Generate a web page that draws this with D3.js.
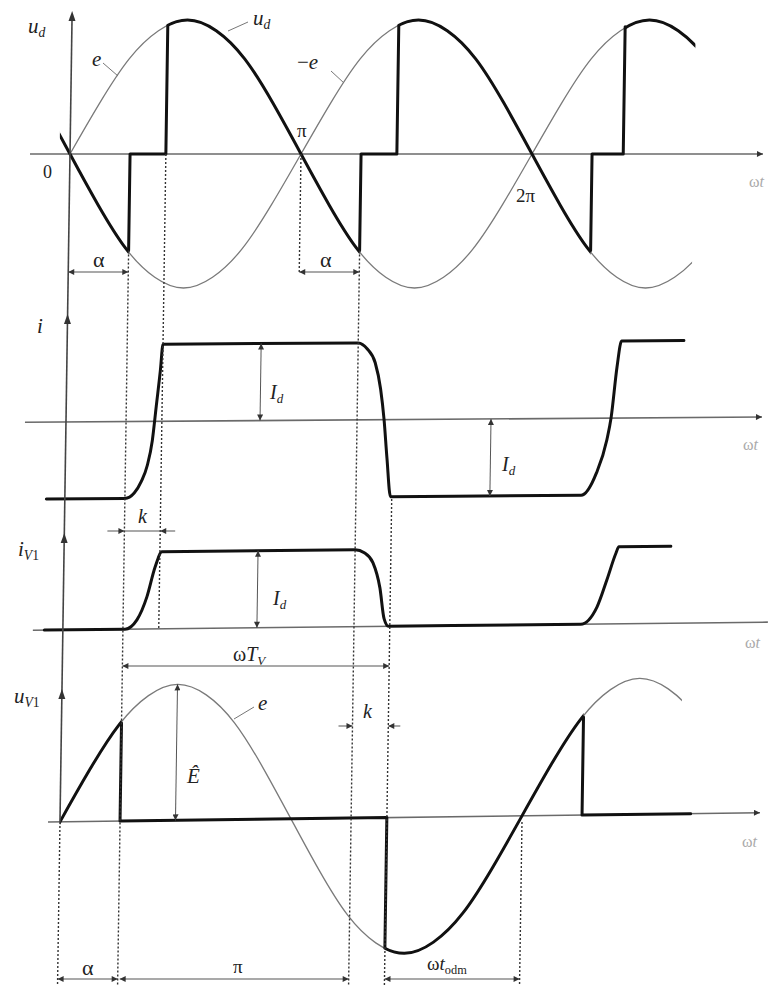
<!DOCTYPE html>
<html>
<head>
<meta charset="utf-8">
<script src="https://cdn.jsdelivr.net/npm/d3@7"></script>
<style>
body { margin: 0; background: #fff; }
</style>
</head>
<body>
<script>
var width = 768,
    height = 989;

// angles in multiples of pi, amplitudes in per unit (E-hat or Id)
var eTheta = [-0.25, -0.125, 0, 0.125, 0.25, 0.375, 0.5, 0.625, 0.75, 0.875, 1, 1.125, 1.25,
  1.375, 1.5, 1.625, 1.75, 1.875, 2, 2.125, 2.25, 2.375, 2.5, 2.625, 2.75, 2.875];
var eValue = [-0.71, -0.38, 0, 0.38, 0.71, 0.92, 1, 0.92, 0.71, 0.38, 0, -0.38, -0.71,
  -0.92, -1, -0.92, -0.71, -0.38, 0, 0.38, 0.71, 0.92, 1, 0.92, 0.71, 0.38];
var eEnd = 2.7;

var fireAngles = [0.26, 1.26, 2.26];        // alpha, pi+alpha, 2pi+alpha
var commEndAngles = [0.415, 1.415, 2.395];  // end of overlap k
var udBefore = [-0.72, -0.72, -0.72];       // u_d just before each firing
var udAfter = [0.96, 0.96, 0.95];           // u_d at end of overlap
var udStart = -0.045;

// current i (units of Id)
var iTheta = [-0.08, 0.26, 0.30, 0.33, 0.355, 0.375, 0.39, 0.405, 0.415, 1.26, 1.30, 1.335, 1.36,
  1.377, 1.392, 1.41, 2.235, 2.30, 2.343, 2.36, 2.382, 2.40, 2.67];
var iValue = [-1, -1, -0.93, -0.78, -0.57, -0.25, 0.2, 0.65, 1, 1, 0.92, 0.74, 0.4,
  0, -0.5, -1, -1, -0.71, -0.28, 0.01, 0.66, 1, 1];

// thyristor current iV1 (units of Id)
var ivTheta = [-0.08, 0.269, 0.32, 0.362, 0.395, 0.424, 1.26, 1.30, 1.338, 1.37, 1.39, 1.41,
  2.242, 2.311, 2.352, 2.39, 2.402, 2.627];
var ivValue = [0, 0, 0.12, 0.42, 0.8, 1, 1, 0.96, 0.83, 0.5, 0.1, 0,
  0, 0.22, 0.57, 0.92, 1, 1];

// thyristor voltage uV1 jumps
var uvJump = [0.72, -0.96, 0.72];
var uvFlatEnd = 2.73;

// panel layout: zero line, amplitude in px, scan tilt
var panels = [
  {zero: 154, amp: 134, tilt: 0},
  {zero: 422, amp: 77, tilt: 0.007},
  {zero: 630, amp: 77, tilt: 0.011},
  {zero: 822, amp: 136, tilt: 0.013}
];
var shear = 0.015;
var serif = "'Liberation Serif', 'Times New Roman', serif";

var svg = d3.select("body").append("svg")
  .attr("width", width)
  .attr("height", height)
  .attr("font-family", serif);
var defs = svg.append("defs");

defs.append("marker")
  .attr("id", "ah")
  .attr("viewBox", "0 0 10 10")
  .attr("refX", 10).attr("refY", 5)
  .attr("markerUnits", "userSpaceOnUse")
  .attr("markerWidth", 8).attr("markerHeight", 6)
  .attr("orient", "auto-start-reverse")
  .append("path").attr("d", "M0,0L10,5L0,10Z").attr("fill", "#333");

var x = d3.scaleLinear().domain([0, 1]).range([70, 301]);
panels.forEach(function (p) {
  p.y = d3.scaleLinear().domain([-1, 1]).range([p.zero + p.amp, p.zero - p.amp]);
  p.g = svg.append("g")
    .attr("transform", "matrix(1," + (-p.tilt) + "," + (-shear) + ",1," + (shear * 154) + "," + (p.tilt * 60) + ")");
});
var gG = svg.append("g")
  .attr("transform", "matrix(1,0," + (-shear) + ",1," + (shear * 154) + ",0)");
// layers inside panels
panels.forEach(function (p) {
  p.axis = p.g.append("g");
  p.thin = p.g.append("g");
  p.thick = p.g.append("g");
  p.ann = p.g.append("g");
});

var clipCount = 0;
function clipTo(t0, t1) {
  var id = "clip" + (clipCount++);
  defs.append("clipPath").attr("id", id).attr("clipPathUnits", "userSpaceOnUse")
    .append("rect")
    .attr("x", x(t0)).attr("y", -50)
    .attr("width", x(t1) - x(t0)).attr("height", height + 100);
  return "url(#" + id + ")";
}

function sine(p, layer, sign, t0, t1) {
  var pts = eTheta.map(function (t, i) { return [t, sign * eValue[i]]; });
  var line = d3.line().curve(d3.curveNatural)
    .x(function (d) { return x(d[0]); })
    .y(function (d) { return p.y(d[1]); });
  return layer.append("path").datum(pts)
    .attr("d", line)
    .attr("clip-path", clipTo(t0, t1))
    .attr("fill", "none");
}

function thin(s) { return s.attr("stroke", "#7a7a7a").attr("stroke-width", 1.3); }
function thick(s) {
  return s.attr("stroke", "#111").attr("stroke-width", 3)
    .attr("stroke-linejoin", "round").attr("stroke-linecap", "round");
}

function poly(p, layer, pts, curve) {
  var line = d3.line().curve(curve || d3.curveLinear)
    .x(function (d) { return x(d[0]); })
    .y(function (d) { return p.y(d[1]); });
  return layer.append("path").datum(pts).attr("d", line).attr("fill", "none");
}

// dashed guide lines (global, shear only)
function dashed(t, y0, y1) {
  gG.append("line")
    .attr("x1", x(t)).attr("x2", x(t))
    .attr("y1", y0).attr("y2", y1)
    .attr("stroke", "#333").attr("stroke-width", 1.4)
    .attr("stroke-dasharray", "2,2");
}
var P = panels;
dashed(fireAngles[0], P[0].y(udBefore[0]), 985);
dashed(commEndAngles[0], P[0].zero, P[2].zero);
dashed(1, P[0].zero, 272);
dashed(fireAngles[1], P[0].y(udBefore[1]), 985);
dashed(commEndAngles[1], P[1].y(-1), 985);
dashed(2, P[3].zero, 985);
dashed(0, P[3].zero, 985);

// vertical axis
gG.append("line").attr("x1", x(0)).attr("x2", x(0)).attr("y1", 15).attr("y2", P[3].zero)
  .attr("stroke", "#444").attr("stroke-width", 1.6);
[15, 318, 537, 693].forEach(function (yy) {
  gG.append("path")
    .attr("d", "M" + x(0) + "," + (yy - 4) + "L" + (x(0) - 3.5) + "," + (yy + 6) + "L" + (x(0) + 3.5) + "," + (yy + 6) + "Z")
    .attr("fill", "#333");
});

// horizontal axes
var axisExtent = [[30, 763], [29, 766], [40, 775], [58, 770]];
panels.forEach(function (p, i) {
  var a = p.axis.append("line")
    .attr("x1", axisExtent[i][0]).attr("x2", axisExtent[i][1])
    .attr("y1", p.zero).attr("y2", p.zero)
    .attr("stroke", "#6a6a6a").attr("stroke-width", 1.6);
  if (i !== 2) a.attr("marker-end", "url(#ah)");
});

// panel 1: e, -e and u_d
thin(sine(P[0], P[0].thin, 1, 0, eEnd));
thin(sine(P[0], P[0].thin, -1, 0, eEnd));
thick(sine(P[0], P[0].thick, -1, udStart, fireAngles[0]));
thick(sine(P[0], P[0].thick, 1, commEndAngles[0], fireAngles[1]));
thick(sine(P[0], P[0].thick, -1, commEndAngles[1], fireAngles[2]));
thick(sine(P[0], P[0].thick, 1, commEndAngles[2], eEnd));
fireAngles.forEach(function (t, i) {
  thick(poly(P[0], P[0].thick, [[t, udBefore[i]], [t, 0], [commEndAngles[i], 0], [commEndAngles[i], udAfter[i]]]));
});

// panel 2: i
thick(poly(P[1], P[1].thick, iTheta.map(function (t, i) { return [t, iValue[i]]; }), d3.curveMonotoneX));

// panel 3: iV1
thick(poly(P[2], P[2].thick, ivTheta.map(function (t, i) { return [t, ivValue[i]]; }), d3.curveMonotoneX));

// panel 4: uV1
thin(sine(P[3], P[3].thin, 1, 0, eEnd - 0.015));
thick(sine(P[3], P[3].thick, 1, 0, fireAngles[0]));
thick(sine(P[3], P[3].thick, 1, commEndAngles[1], fireAngles[2]));
thick(poly(P[3], P[3].thick, [[fireAngles[0], uvJump[0]], [fireAngles[0], 0], [commEndAngles[1], 0], [commEndAngles[1], uvJump[1]]]));
thick(poly(P[3], P[3].thick, [[fireAngles[2], uvJump[2]], [fireAngles[2], 0], [uvFlatEnd, 0]]));

// dimension arrows
function dim(g, x1, y1, x2, y2, both) {
  var l = g.append("line").attr("x1", x1).attr("y1", y1).attr("x2", x2).attr("y2", y2)
    .attr("stroke", "#555").attr("stroke-width", 1).attr("marker-end", "url(#ah)");
  if (both) l.attr("marker-start", "url(#ah)");
}
var a0 = fireAngles[0], k0 = commEndAngles[0];
dim(P[0].ann, x(0), 272, x(a0), 272, true);
dim(P[0].ann, x(1), 272, x(fireAngles[1]), 272, true);
dim(P[1].ann, x(0.84), P[1].y(1), x(0.84), P[1].y(0), true);
dim(P[1].ann, x(1.84), P[1].y(0), x(1.84), P[1].y(-1), true);
dim(P[2].ann, x(0.84), P[2].y(1), x(0.84), P[2].y(0), true);
dim(P[3].ann, x(0.5), P[3].y(1), x(0.5), P[3].y(0), true);
// k between panels 2 and 3
dim(gG, x(a0) - 17, 531, x(a0), 531, false);
dim(gG, x(k0) + 15, 531, x(k0), 531, false);
gG.append("line").attr("x1", x(a0)).attr("x2", x(k0)).attr("y1", 531).attr("y2", 531)
  .attr("stroke", "#555").attr("stroke-width", 1);
// omega T_V
dim(gG, x(a0), 666, x(commEndAngles[1]), 666, true);
// k in panel 4
dim(gG, x(fireAngles[1]) - 14, 726, x(fireAngles[1]), 726, false);
dim(gG, x(commEndAngles[1]) + 12, 726, x(commEndAngles[1]), 726, false);
// bottom
dim(gG, x(0), 979, x(a0), 979, true);
dim(gG, x(a0) + 2, 979, x(fireAngles[1]), 979, true);
dim(gG, x(commEndAngles[1]), 979, x(2), 979, true);

// leader lines
[[103, 63, 118, 76], [228, 31, 248, 22], [331, 71, 344, 83], [234, 719, 254, 707]].forEach(function (d) {
  svg.append("line").attr("x1", d[0]).attr("y1", d[1]).attr("x2", d[2]).attr("y2", d[3])
    .attr("stroke", "#777").attr("stroke-width", 1);
});

// labels: parts [text, italic, sub]
function label(lx, ly, parts, size, color) {
  var fs = size || 21;
  var t = svg.append("text").attr("x", lx).attr("y", ly)
    .attr("font-family", serif)
    .attr("font-size", fs)
    .attr("fill", color || "#222");
  var down = false;
  parts.forEach(function (p) {
    var ts = t.append("tspan").text(p[0]).attr("font-style", p[1] ? "italic" : "normal");
    if (p[2] && !down) { ts.attr("dy", 4).attr("font-size", fs * 0.65); down = true; }
    else if (p[2]) { ts.attr("font-size", fs * 0.65); }
  });
}
label(28, 33, [["u", 1], ["d", 1, 1]]);
label(92, 66, [["e", 1]]);
label(253, 25, [["u", 1], ["d", 1, 1]]);
label(297, 69, [["\u2212", 0], ["e", 1]]);
label(297, 137, [["\u03c0", 0]], 19);
label(43, 178, [["0", 0]], 18);
label(516, 202, [["2\u03c0", 0]], 19);
label(749, 187, [["\u03c9", 0], ["t", 1]], 16, "#aaa");
label(93, 267, [["\u03b1", 0]], 22);
label(320, 267, [["\u03b1", 0]], 22);

label(37, 333, [["i", 1]]);
label(270, 399, [["I", 1], ["d", 1, 1]], 20);
label(502, 471, [["I", 1], ["d", 1, 1]], 20);
label(743, 450, [["\u03c9", 0], ["t", 1]], 16, "#aaa");
label(138, 523, [["k", 1]], 20);

label(18, 556, [["i", 1], ["V", 1, 1], ["1", 0, 1]]);
label(273, 605, [["I", 1], ["d", 1, 1]], 20);
label(745, 648, [["\u03c9", 0], ["t", 1]], 16, "#aaa");

label(233, 661, [["\u03c9", 0], ["T", 1], ["V", 1, 1]], 20);
label(14, 703, [["u", 1], ["V", 1, 1], ["1", 0, 1]]);
label(258, 710, [["e", 1]]);
label(187, 783, [["\u00ca", 1]], 21);
label(363, 718, [["k", 1]], 20);
label(742, 847, [["\u03c9", 0], ["t", 1]], 16, "#aaa");
label(82, 975, [["\u03b1", 0]], 22);
label(233, 973, [["\u03c0", 0]], 19);
label(427, 970, [["\u03c9", 0], ["t", 1], ["odm", 0, 1]], 19);
</script>
</body>
</html>
